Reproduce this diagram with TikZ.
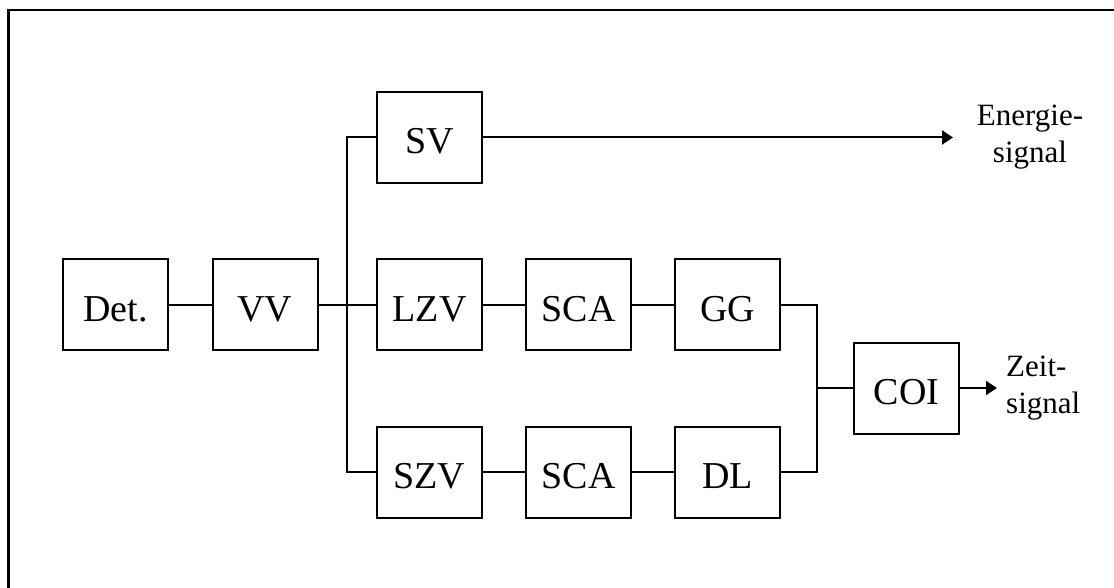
\documentclass[tikz,border=0pt]{standalone}
\usepackage{fontspec}
\setmainfont{Liberation Serif}
\usetikzlibrary{arrows.meta}
\begin{document}
\begin{tikzpicture}[x=1pt,y=-1pt,
  blk/.style={draw,line width=2pt,minimum width=105pt,minimum height=91pt,inner sep=0pt,
    font=\fontsize{38}{38}\selectfont,text height=33pt,text depth=0pt},
  wire/.style={line width=2pt},
  arr/.style={line width=2pt,-{Triangle[length=11pt,width=14pt]}},
  lbl/.style={font=\fontsize{31}{37}\selectfont,inner sep=0pt}]
\useasboundingbox (0,0) rectangle (1114,588);
\draw[line width=2.8pt] (8.5,588) -- (8.5,10) -- (1114,10);
% nodes
\node[blk] (det) at (115.5,304.5) {Det.};
\node[blk] (vv)  at (265,304.5) {VV};
\node[blk] (sv)  at (429.5,137.5) {SV};
\node[blk] (lzv) at (429.5,304.5) {LZV};
\node[blk] (sca1) at (578.5,304.5) {SCA};
\node[blk] (gg)  at (727.5,304.5) {GG};
\node[blk] (szv) at (429.5,472) {SZV};
\node[blk] (sca2) at (578.5,472) {SCA};
\node[blk] (dl)  at (727.5,472) {DL};
\node[blk] (coi) at (906.5,388) {COI};
\node[lbl,align=center] (en) at (1030,137) {Energie-\\signal};
\node[lbl,align=left,anchor=west] (zeit) at (1006,388) {Zeit-\\signal};
\coordinate (j) at (347,304.5);
\coordinate (m) at (817,388);
\coordinate (enend) at (953,137.5);
\coordinate (zend) at (997,388);
% connectors
\draw[wire] (det) -- (vv);
\draw[wire] (vv) -- (lzv);
\draw[wire] (sv.west) -| (j) |- (szv.west);
\draw[wire] (lzv) -- (sca1);
\draw[wire] (sca1) -- (gg);
\draw[wire] (szv) -- (sca2);
\draw[wire] (sca2) -- (dl);
\draw[wire] (gg.east) -| (m) |- (dl.east);
\draw[wire] (m) -- (coi.west);
\draw[arr] (sv.east) -- (enend);
\draw[arr] (coi.east) -- (zend);
\end{tikzpicture}
\end{document}
